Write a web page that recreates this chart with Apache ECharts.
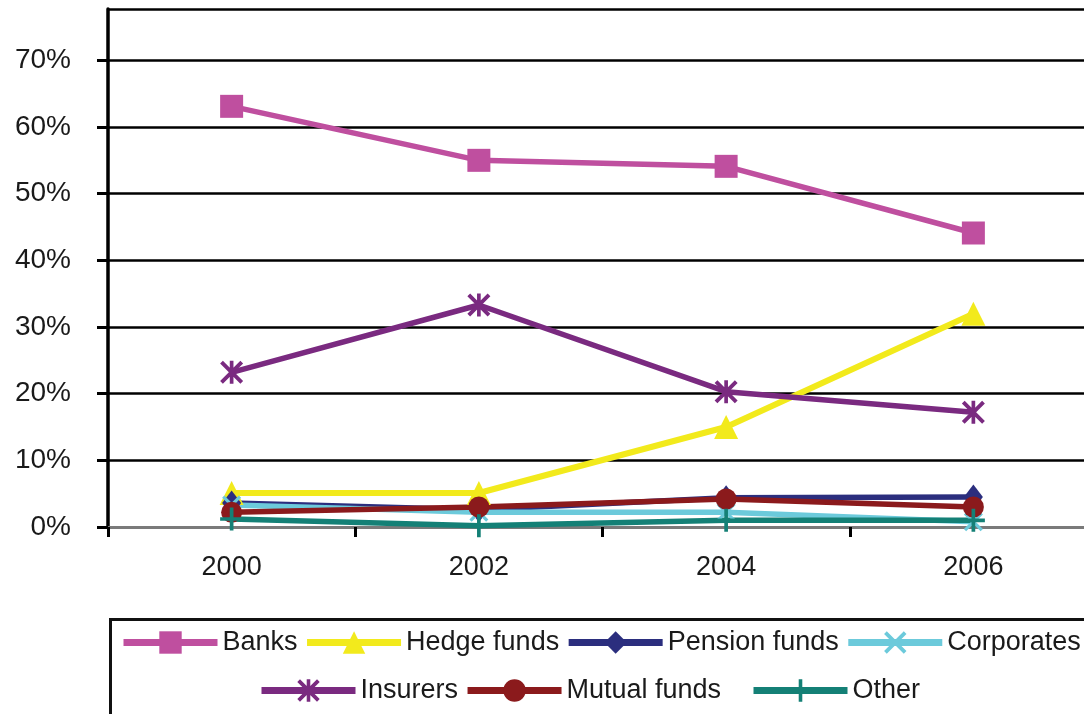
<!DOCTYPE html>
<html>
<head>
<meta charset="utf-8">
<script src="https://cdn.jsdelivr.net/npm/echarts@6/dist/echarts.min.js"></script>
<style>
  html, body { margin: 0; padding: 0; background: #fff; }
  #chart { width: 1084px; height: 714px; }
</style>
</head>
<body>
<div id="chart"></div>
<script>
// Share of holdings by investor type, 2000-2006 (%)
const years = ['2000', '2002', '2004', '2006'];
const banks = [63.1, 55.0, 54.1, 44.1];
const hedgeFunds = [5.1, 5.1, 15.0, 32.0];
const pensionFunds = [3.6, 2.6, 4.4, 4.5];
const corporates = [3.3, 2.2, 2.2, 0.8];
const insurers = [23.2, 33.3, 20.3, 17.2];
const mutualFunds = [2.2, 3.0, 4.2, 3.0];
const other = [1.2, 0.2, 1.0, 1.0];
const yTicks = [0, 10, 20, 30, 40, 50, 60, 70];

// Custom marker outlines (filled polygons in a 10x10 box)
const xMark = 'M0,1.2L1.2,0L5,3.8L8.8,0L10,1.2L6.2,5L10,8.8L8.8,10L5,6.2L1.2,10L0,8.8L3.8,5Z';
const starMark = 'path://' + xMark + 'M4.2,0H5.8V10H4.2Z';
const crossMark = 'path://' + xMark;
const plusMark = 'path://M4.2,0H5.8V4.2H10V5.8H5.8V10H4.2V5.8H0V4.2H4.2Z';

const font = '"Liberation Sans", Arial, Helvetica, sans-serif';

function line(name, data, color, symbol, size, width) {
  return {
    name: name,
    type: 'line',
    data: data,
    symbol: symbol,
    symbolSize: size,
    showSymbol: true,
    lineStyle: { color: color, width: width || 5.5 },
    itemStyle: { color: color },
    emphasis: { disabled: true }
  };
}

const legendBase = {
  orient: 'horizontal',
  width: 1400,
  padding: 0,
  itemWidth: 94, itemHeight: 28, itemGap: 6,
  textStyle: { color: '#1a1a1a', fontSize: 27, fontFamily: font },
  lineStyle: { width: 7 },
  selectedMode: false
};

const chart = echarts.init(document.getElementById('chart'), null, { renderer: 'canvas' });
chart.setOption({
  animation: false,
  backgroundColor: '#ffffff',
  grid: {
    left: 108, top: 9, right: -13, bottom: 187,
    containLabel: false,
    outerBoundsMode: 'none'
  },
  xAxis: {
    type: 'category',
    data: years,
    boundaryGap: true,
    axisLine: { show: true, lineStyle: { color: '#7a7a7a', width: 3 } },
    axisTick: { show: true, length: 10, lineStyle: { color: '#000', width: 3 } },
    axisLabel: { color: '#1a1a1a', fontSize: 27, fontFamily: font, margin: 27 },
    splitLine: { show: false }
  },
  yAxis: {
    type: 'value',
    min: yTicks[0],
    max: 77.7,
    interval: 10,
    axisLine: { show: true, lineStyle: { color: '#000', width: 3.5 } },
    axisTick: { show: true, length: 11, lineStyle: { color: '#000', width: 3 } },
    axisLabel: {
      color: '#1a1a1a', fontSize: 28, fontFamily: font, margin: 37,
      showMaxLabel: false,
      formatter: function (v) { return yTicks.indexOf(v) >= 0 ? v + '%' : ''; }
    },
    splitLine: { show: true, showMinLine: false, lineStyle: { color: '#000', width: 2.5 } }
  },
  legend: [
    Object.assign({}, legendBase, {
      data: ['Banks', 'Hedge funds', 'Pension funds', 'Corporates'],
      left: 120, top: 629
    }),
    Object.assign({}, legendBase, {
      data: ['Insurers', 'Mutual funds'],
      left: 258, top: 677
    }),
    Object.assign({}, legendBase, {
      data: ['Other'],
      left: 750, top: 677
    })
  ],
  graphic: [
    {
      type: 'rect',
      left: 108, top: 617,
      shape: { width: 1100, height: 200 },
      style: { fill: 'none', stroke: '#111', lineWidth: 3 },
      silent: true
    }
  ],
  series: [
    line('Banks', banks, '#bf4f9f', 'rect', 23),
    line('Hedge funds', hedgeFunds, '#f2ea1c', 'triangle', 24, 6),
    line('Pension funds', pensionFunds, '#2b2e7e', 'diamond', [19, 25]),
    line('Corporates', corporates, '#6ccadb', crossMark, 19),
    line('Insurers', insurers, '#7a2a80', starMark, 23),
    line('Mutual funds', mutualFunds, '#8b1a1c', 'circle', 21),
    line('Other', other, '#148076', plusMark, 23)
  ]
});
</script>
</body>
</html>
